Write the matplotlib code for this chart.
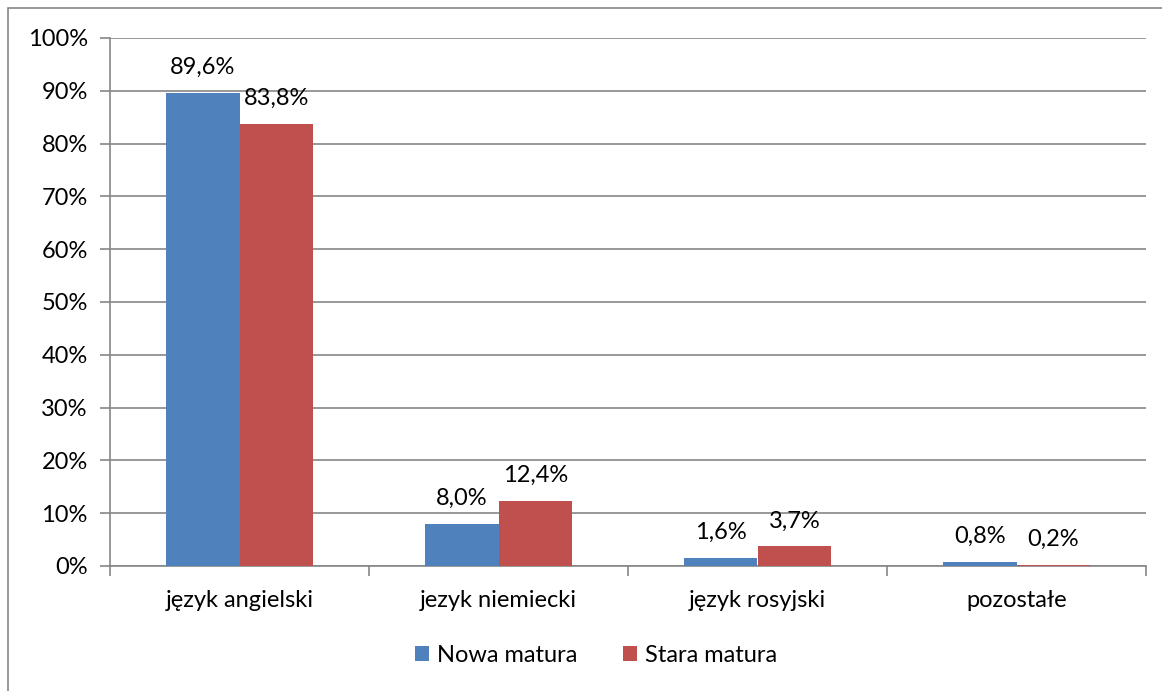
import matplotlib.pyplot as plt
import matplotlib.patches as mpatches
import numpy as np

categories = ['język angielski', 'jezyk niemiecki', 'język rosyjski', 'pozostałe']
nowa = [89.6, 8.0, 1.6, 0.8]
stara = [83.8, 12.4, 3.7, 0.2]
series_names = ['Nowa matura', 'Stara matura']
yticks = [0, 10, 20, 30, 40, 50, 60, 70, 80, 90, 100]

plt.rcParams['font.family'] = ['Lato', 'DejaVu Sans']
FS = 17

fig = plt.figure(figsize=(11.62, 6.91), dpi=100)
W, H = 1162, 691
ax = fig.add_axes([110 / W, 1 - 566 / H, (1146 - 110) / W, (566 - 38) / H])

# ramka wykresu
fig.patches.append(mpatches.Rectangle((8 / W, -0.01), 1.1, 1 - 8 / H + 0.01,
                                      transform=fig.transFigure, fill=False,
                                      edgecolor='#868686', linewidth=1.2))

x = np.arange(len(categories))
w = 0.285
b1 = ax.bar(x - w / 2, nowa, w, color='#4F81BD', label=series_names[0], zorder=3)
b2 = ax.bar(x + w / 2, stara, w, color='#C0504D', label=series_names[1], zorder=3)

for bars, vals in [(b1, nowa), (b2, stara)]:
    for bar, v in zip(bars, vals):
        ax.text(bar.get_x() + bar.get_width() / 2, v + 2.8,
                f'{v:.1f}%'.replace('.', ','), ha='center', va='bottom',
                fontsize=FS, color='black', zorder=4)

ax.set_xlim(-0.5, len(categories) - 0.5)
ax.set_ylim(0, 100)
ax.set_yticks(yticks)
ax.set_yticklabels([f'{t}%' for t in yticks], fontsize=FS)
ax.yaxis.grid(True, color='#868686', linewidth=1.2, zorder=0)

ax.set_xticks(x)
ax.set_xticklabels(categories, fontsize=FS)
ax.tick_params(axis='x', length=0, pad=17)
ax.set_xticks(np.arange(-0.5, len(categories)), minor=True)
ax.tick_params(axis='x', which='minor', length=7, color='#868686', width=1.2)
ax.tick_params(axis='y', length=7, color='#868686', width=1.2, pad=9)

for s in ['top', 'right']:
    ax.spines[s].set_visible(False)
for s in ['left', 'bottom']:
    ax.spines[s].set_color('#868686')
    ax.spines[s].set_linewidth(1.2)

fig.legend(handles=[b1, b2], loc='center', bbox_to_anchor=(596 / W, 1 - 655 / H),
           ncol=2, frameon=False, fontsize=FS, handlelength=0.6, handleheight=0.6,
           handletextpad=0.35, columnspacing=1.9)

fig.savefig('out.png', dpi=100)
